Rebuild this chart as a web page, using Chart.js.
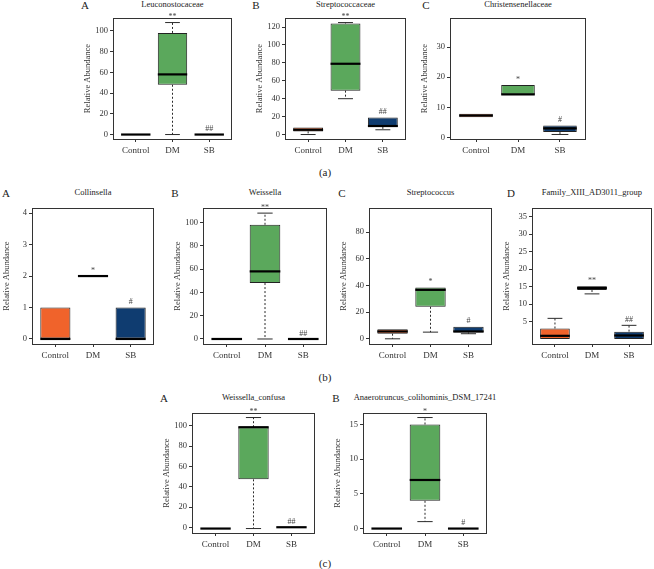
<!DOCTYPE html>
<html>
<head>
<meta charset="utf-8">
<script src="https://cdn.jsdelivr.net/npm/chart.js@4.4.0/dist/chart.umd.min.js"></script>
<style>
body{margin:0;background:#fff;width:654px;height:569px;position:relative;overflow:hidden;font-family:"Liberation Serif","DejaVu Serif",serif;color:#222}
canvas{position:absolute}
.t{position:absolute;font-size:8.5px;line-height:10px;white-space:nowrap;transform:translate(-50%,-50%)}
.l{position:absolute;font-size:11px;line-height:12px;transform:translate(-50%,-50%)}
.c{position:absolute;font-size:11px;line-height:12px;transform:translate(-50%,-50%)}
</style>
</head>
<body>
<script>
var groups = ['Control', 'DM', 'SB'];
var titles = ['Leuconostocaceae', 'Streptococcaceae', 'Christensenellaceae', 'Collinsella', 'Weissella', 'Streptococcus', 'Family_XIII_AD3011_group', 'Weissella_confusa', 'Anaerotruncus_colihominis_DSM_17241'];
var letters = ['A', 'B', 'C', 'A', 'B', 'C', 'D', 'A', 'B'];
var captions = ['(a)', '(b)', '(c)'];

// box plot stats per panel: [Control, DM, SB]
var whiskerLow = [[0,0,0],[0,40,5.3],[7.3,14.2,1],[0,2,0],[0,0,0],[0,5,3.8],[0,12.9,0],[-1,-1,0.3],[0,1,0]];
var q1 = [[0,48,0],[3.5,49,8.5],[6.7,14.2,1.8],[0,2,0],[0,48,0],[3.8,24,4.8],[0,14,0],[-1,47.3,0.3],[0,4,0]];
var medians = [[0,58,0],[5.3,79,9.5],[7.3,14.3,3],[0,2,0],[0,58,0],[5.5,36.7,5.5],[0.9,14.6,1],[-1,98.5,0.3],[0,7,0]];
var q3 = [[0,98,0],[7.8,124,19],[7.9,17.4,4],[1,2,1],[0,98,0],[7.2,38.4,9.1],[3,15.1,2.1],[-1,98.5,0.3],[0,15,0]];
var whiskerHigh = [[0,108,0],[7.8,125,19],[7.9,17.4,4],[1,2,1],[0,108,0],[7.2,38.4,9.1],[5.9,15.1,3.9],[-1,108,0.3],[0,16,0]];
var marks = [['','**','##'],['','**','##'],['','*','#'],['','*','#'],['','**','##'],['','*','#'],['','**','##'],['','**','##'],['','*','#']];
var yTicks = [[0,20,40,60,80,100],[0,20,40,60,80,100,120],[0,10,20,30],[0,1,2,3,4],[0,20,40,60,80,100],[0,20,40,60,80],[5,10,15,20,25,30,35],[0,20,40,60,80,100],[0,5,10,15]];
var yLimits = [[-4.3,112.3],[-5,130],[-0.5,39.6],[-0.16,4.16],[-4.3,112.3],[-3.9,98],[-1.44,37.44],[-5.36,112.36],[-0.64,16.64]];

// plot rectangles [left, top, right, bottom] and label positions
var plots = [[113,13,232,139],[285,13,406,139],[450,13,586,139],
             [32,203,154,344],[203,203,327,344],[369,203,492,344],[532,203,652,344],
             [192,408,315,533],[363,408,487,533]];
var titleY = [4,4,4,192,192,192,192,397,397];
var letterX = [85,256,426,6,175,342,511,164,336];
var captionY = [172,377,563];

var colors = ['#F0632B', '#5BA85C', '#0F3C70'];
var serif = '"Liberation Serif", "DejaVu Serif", serif';
var YW = 30, XH = 20;

var boxPlugin = {
  id: 'boxes',
  afterDatasetsDraw: function(chart){
    var k = chart.options.plugins.boxes.k;
    var ctx = chart.ctx, x = chart.scales.x, y = chart.scales.y;
    var bars = chart.getDatasetMeta(0).data;
    var a = chart.chartArea;
    ctx.save();
    for (var i = 0; i < 3; i++){
      var cx = x.getPixelForValue(i + 1);
      var w = bars[i].width;
      var pLo = y.getPixelForValue(whiskerLow[k][i]);
      var pQ1 = y.getPixelForValue(q1[k][i]);
      var pQ3 = y.getPixelForValue(q3[k][i]);
      var pHi = y.getPixelForValue(whiskerHigh[k][i]);
      ctx.strokeStyle = '#2a2a2a';
      ctx.lineWidth = 1;
      ctx.setLineDash([2, 2]);
      ctx.beginPath();
      if (pLo - pQ1 > 0.5){ ctx.moveTo(cx, pQ1); ctx.lineTo(cx, pLo); }
      if (pQ3 - pHi > 0.5){ ctx.moveTo(cx, pQ3); ctx.lineTo(cx, pHi); }
      ctx.stroke();
      ctx.setLineDash([]);
      ctx.beginPath();
      if (pLo - pQ1 > 0.5){ ctx.moveTo(cx - w/4, pLo); ctx.lineTo(cx + w/4, pLo); }
      if (pQ3 - pHi > 0.5){ ctx.moveTo(cx - w/4, pHi); ctx.lineTo(cx + w/4, pHi); }
      ctx.stroke();
      // median
      var pMed = y.getPixelForValue(medians[k][i]);
      ctx.strokeStyle = '#000';
      ctx.lineWidth = 2.2;
      ctx.beginPath();
      ctx.moveTo(cx - w/2, pMed); ctx.lineTo(cx + w/2, pMed);
      ctx.stroke();
      if (marks[k][i]){
        ctx.fillStyle = '#444';
        ctx.font = '8px ' + serif;
        ctx.textAlign = 'center';
        ctx.textBaseline = 'bottom';
        ctx.fillText(marks[k][i], cx, pHi - 1.5);
      }
    }
    ctx.strokeStyle = '#333';
    ctx.lineWidth = 1;
    ctx.strokeRect(Math.round(a.left) + 0.5, Math.round(a.top) + 0.5, Math.round(a.right - a.left) - 1, Math.round(a.bottom - a.top));
    ctx.restore();
  }
};

function addText(cls, txt, x, y){
  var d = document.createElement('div');
  d.className = cls;
  d.textContent = txt;
  d.style.left = x + 'px';
  d.style.top = y + 'px';
  document.body.appendChild(d);
}

plots.forEach(function(r, k){
  var cv = document.createElement('canvas');
  var w = (r[2] - r[0]) + YW + 2, h = (r[3] - r[1]) + 2 + XH;
  cv.width = w; cv.height = h;
  cv.style.left = (r[0] - YW) + 'px';
  cv.style.top = (r[1] - 2) + 'px';
  cv.style.width = w + 'px'; cv.style.height = h + 'px';
  document.body.appendChild(cv);

  new Chart(cv, {
    type: 'bar',
    data: {
      datasets: [{
        data: groups.map(function(g, i){ return {x: i + 1, y: [q1[k][i], q3[k][i]]}; }),
        backgroundColor: colors,
        borderColor: '#222',
        borderWidth: 1,
        borderSkipped: false,
        barPercentage: 0.8,
        categoryPercentage: 1
      }]
    },
    options: {
      responsive: false,
      animation: false,
      devicePixelRatio: 1,
      layout: {padding: {top: 2, right: 2, left: 0, bottom: 0}},
      plugins: {legend: {display: false}, tooltip: {enabled: false}, boxes: {k: k}},
      scales: {
        x: {
          type: 'linear', min: 0.38, max: 3.62, offset: false,
          afterBuildTicks: function(s){ s.ticks = [1, 2, 3].map(function(v){ return {value: v}; }); },
          afterFit: function(s){ s.height = XH; },
          grid: {drawOnChartArea: false, tickLength: 3, color: '#333', offset: false},
          border: {display: false},
          ticks: {callback: function(v){ return groups[v - 1]; }, font: {family: serif, size: 9}, color: '#333', padding: 3, autoSkip: false, maxRotation: 0}
        },
        y: {
          min: yLimits[k][0], max: yLimits[k][1],
          afterBuildTicks: function(s){ s.ticks = yTicks[k].map(function(v){ return {value: v}; }); },
          afterFit: function(s){ s.width = YW; },
          grid: {drawOnChartArea: false, tickLength: 3, color: '#333'},
          border: {display: false},
          ticks: {font: {family: serif, size: 8.5}, color: '#333', padding: 2},
          title: {display: true, text: 'Relative Abundance', font: {family: serif, size: 8.5}, color: '#333', padding: 0}
        }
      }
    },
    plugins: [boxPlugin]
  });

  addText('t', titles[k], (r[0] + r[2]) / 2, titleY[k]);
  addText('l', letters[k], letterX[k], titleY[k] + 1);
});

captions.forEach(function(c, i){ addText('c', c, 325, captionY[i]); });
</script>
</body>
</html>
